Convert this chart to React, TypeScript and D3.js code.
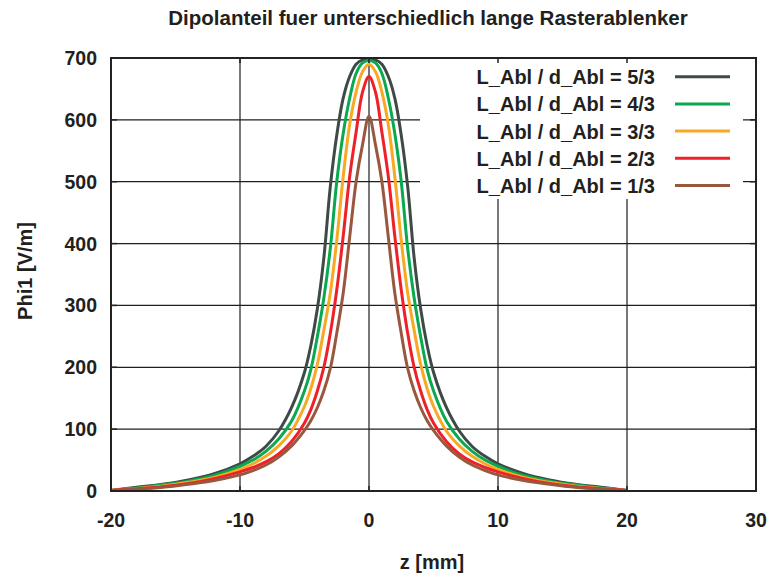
import React from "react";
import * as d3 from "d3";

// Axial position along the deflector [mm]
const zValues = [-20, -18, -16, -14, -12, -10, -9, -8, -7, -6, -5, -4.5, -4, -3.5, -3, -2.5, -2, -1.5, -1, -0.5, 0, 0.5, 1, 1.5, 2, 2.5, 3, 3.5, 4, 4.5, 5, 6, 7, 8, 9, 10, 12, 14, 16, 18, 20];

// Dipole component Phi1 [V/m] for each deflector length ratio
const phiRatio53 = [1, 6, 11, 18, 28, 44, 56, 72, 97, 135, 192, 236, 295, 377, 492, 575, 635, 670, 690, 697, 698, 697, 690, 670, 635, 575, 492, 377, 295, 236, 192, 135, 97, 72, 56, 44, 28, 18, 11, 6, 1];
const phiRatio43 = [1, 5, 10, 16, 25, 40, 50, 64, 84, 113, 162, 197, 250, 312, 392, 500, 578, 635, 675, 692, 696, 692, 675, 635, 578, 500, 392, 312, 250, 197, 162, 113, 84, 64, 50, 40, 25, 16, 10, 5, 1];
const phiRatio33 = [1, 4, 8, 14, 22, 35, 44, 56, 73, 97, 137, 166, 205, 260, 320, 405, 508, 592, 645, 678, 690, 678, 645, 592, 508, 405, 320, 260, 205, 166, 137, 97, 73, 56, 44, 35, 22, 14, 8, 4, 1];
const phiRatio23 = [1, 3.5, 7, 12, 20, 31, 38, 47, 60, 80, 110, 132, 162, 200, 255, 325, 412, 508, 580, 645, 670, 645, 580, 508, 412, 325, 255, 200, 162, 132, 110, 80, 60, 47, 38, 31, 20, 12, 7, 3.5, 1];
const phiRatio13 = [1, 3, 6, 11, 17, 26, 33, 42, 55, 73, 98, 114, 135, 162, 198, 255, 320, 410, 500, 560, 606, 560, 500, 410, 320, 255, 198, 162, 135, 114, 98, 73, 55, 42, 33, 26, 17, 11, 6, 3, 1];

const seriesLabels = [
  "L_Abl / d_Abl = 5/3",
  "L_Abl / d_Abl = 4/3",
  "L_Abl / d_Abl = 3/3",
  "L_Abl / d_Abl = 2/3",
  "L_Abl / d_Abl = 1/3",
];
const seriesValues = [phiRatio53, phiRatio43, phiRatio33, phiRatio23, phiRatio13];
const seriesColors = ["#3d4a45", "#0aa84f", "#f9a824", "#ee2128", "#9a573f"];

const xTicks = [-20, -10, 0, 10, 20, 30];
const yTicks = [0, 100, 200, 300, 400, 500, 600, 700];

const W = 771;
const H = 574;
const left = 111;
const right = 756;
const top = 58;
const bottom = 491;
const FONT = "'Liberation Sans', Arial, Helvetica, sans-serif";
const TEXT = "#231f20";

export default function App() {
  const x = d3.scaleLinear().domain([-20, 30]).range([left, right]);
  const y = d3.scaleLinear().domain([0, 700]).range([bottom, top]);

  const line = d3
    .line<number>()
    .x((_, i) => x(zValues[i]))
    .y((v) => y(v))
    .curve(d3.curveCatmullRom.alpha(0.5));

  const legendX0 = 420;
  const legendX1 = 743;
  const legendY0 = top;
  const legendY1 = 199;
  const legendRowY = (i: number) => 76.7 + i * 27.2;

  return (
    <svg
      width={W}
      height={H}
      style={{ position: "absolute", left: 0, top: 0, background: "#fff" }}
      fontFamily={FONT}
    >
      <rect x={0} y={0} width={W} height={H} fill="#fff" />

      {/* grid */}
      <g stroke="#1e1e1e" strokeWidth={1.2}>
        {yTicks.slice(1, -1).map((t) => (
          <line key={"gy" + t} x1={left} x2={right} y1={y(t)} y2={y(t)} />
        ))}
        {xTicks.slice(1, -1).map((t) => (
          <line key={"gx" + t} x1={x(t)} x2={x(t)} y1={top} y2={bottom} />
        ))}
      </g>

      {/* legend background */}
      <rect x={legendX0} y={legendY0} width={legendX1 - legendX0} height={legendY1 - legendY0} fill="#fff" />

      {/* curves */}
      <g fill="none" strokeWidth={3} strokeLinejoin="round">
        {seriesValues.map((vals, i) => (
          <path key={"s" + i} d={line(vals) ?? ""} stroke={seriesColors[i]} />
        ))}
      </g>

      {/* legend entries */}
      <g>
        {seriesLabels.map((lab, i) => (
          <g key={"l" + i}>
            <text
              x={655}
              y={legendRowY(i) + 7.5}
              textAnchor="end"
              fontSize={20}
              fontWeight="bold"
              fill={TEXT}
            >
              {lab}
            </text>
            <line
              x1={675}
              x2={730}
              y1={legendRowY(i)}
              y2={legendRowY(i)}
              stroke={seriesColors[i]}
              strokeWidth={3}
            />
          </g>
        ))}
      </g>

      {/* ticks on all four sides */}
      <g stroke="#222" strokeWidth={1.5}>
        {yTicks.map((t) => (
          <g key={"ty" + t}>
            <line x1={left} x2={left + 6} y1={y(t)} y2={y(t)} />
            <line x1={right} x2={right - 6} y1={y(t)} y2={y(t)} />
          </g>
        ))}
        {xTicks.map((t) => (
          <g key={"tx" + t}>
            <line x1={x(t)} x2={x(t)} y1={bottom} y2={bottom - 5} />
            <line x1={x(t)} x2={x(t)} y1={top} y2={top + 5} />
          </g>
        ))}
      </g>

      {/* frame */}
      <rect x={left} y={top} width={right - left} height={bottom - top} fill="none" stroke="#222" strokeWidth={2} />

      {/* tick labels */}
      <g fontSize={19.5} fontWeight="bold" fill={TEXT}>
        {yTicks.map((t) => (
          <text key={"ly" + t} x={97} y={y(t) + 7} textAnchor="end">
            {t}
          </text>
        ))}
        {xTicks.map((t) => (
          <text key={"lx" + t} x={x(t)} y={527} textAnchor="middle">
            {t}
          </text>
        ))}
      </g>

      {/* axis titles */}
      <text x={432} y={569} textAnchor="middle" fontSize={20} fontWeight="bold" fill={TEXT}>
        z [mm]
      </text>
      <text
        transform={`translate(32, 271) rotate(-90)`}
        textAnchor="middle"
        fontSize={20}
        fontWeight="bold"
        fill={TEXT}
      >
        Phi1 [V/m]
      </text>
      <text x={428} y={25} textAnchor="middle" fontSize={20.5} fontWeight="bold" fill={TEXT}>
        Dipolanteil fuer unterschiedlich lange Rasterablenker
      </text>
    </svg>
  );
}
